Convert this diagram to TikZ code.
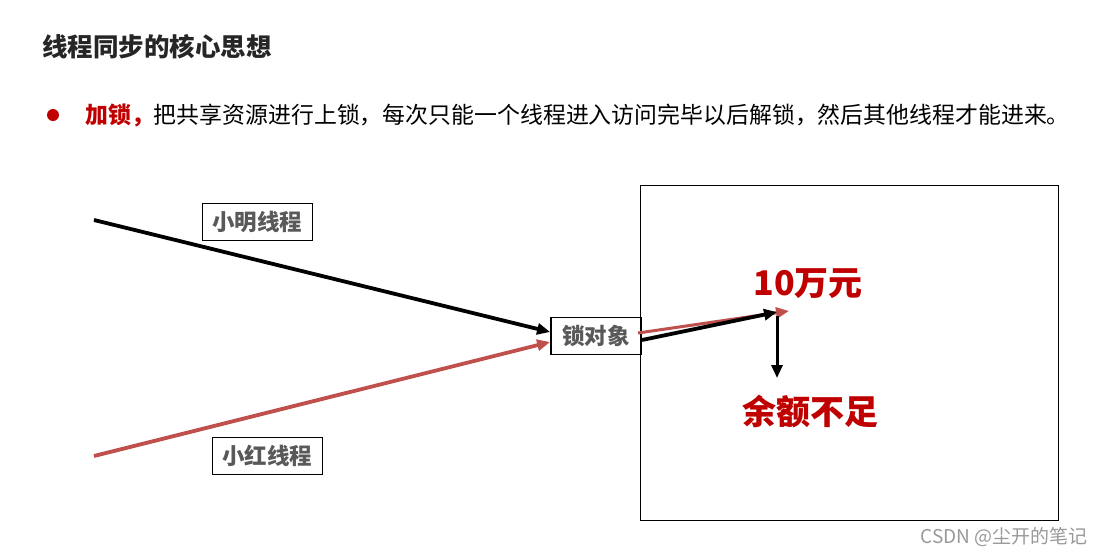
\documentclass[tikz,border=0pt]{standalone}
\usepackage{fontspec}
\newfontfamily\cjk{Noto Sans CJK SC}
\usetikzlibrary{arrows.meta}
\definecolor{darkred}{HTML}{C00000}
\definecolor{linered}{HTML}{C0504D}
\definecolor{labelgray}{HTML}{595959}
\definecolor{titlegray}{HTML}{262626}
\tikzset{
  lbl/.style={draw=black, line width=0.8pt, inner sep=0pt, minimum height=37pt, font=\cjk\bfseries\fontsize{22.5}{24}\selectfont, text=labelgray},
  thread/.style={line width=3.8pt, -{Triangle[length=13pt,width=11pt]}},
  bigtxt/.style={font=\cjk\bfseries\fontsize{34}{36}\selectfont, text=darkred}
}
\begin{document}
\begin{tikzpicture}[x=1pt,y=-1pt]
\useasboundingbox (0,0) rectangle (1104,555);
\fill[white] (0,0) rectangle (1104,555);
% title
\node[anchor=west, inner sep=0pt, font=\cjk\bfseries\fontsize{25.5}{28}\selectfont, text=titlegray] (title) at (42,47) {线程同步的核心思想};
% bullet
\fill[darkred] (53,115) circle (6pt);
\node[anchor=west, inner sep=0pt, font=\cjk\fontsize{22.9}{26}\selectfont] (bullet) at (85,115) {{\bfseries\color{darkred}加锁，}把共享资源进行上锁，每次只能一个线程进入访问完毕以后解锁，然后其他线程才能进来。};
% big box
\node[draw=black, line width=0.8pt, minimum width=418pt, minimum height=335pt, inner sep=0pt] (bigbox) at (849,352.5) {};
% lock
\node[lbl, line width=1.8pt, minimum width=90pt] (lock) at (596,336) {锁对象};
% labels
\node[lbl, minimum width=110pt] (xm) at (257,221.5) {小明线程};
\node[lbl, minimum width=110pt] (xh) at (267,455.5) {小红线程};
% coordinates
\coordinate (xmstart) at (94,220);
\coordinate (xhstart) at (94,456);
\coordinate (redstart) at (638,333);
\coordinate (redend) at (789,311);
\coordinate (blkstart) at (642,340);
\coordinate (blkend) at (777,312);
\coordinate (downstart) at (777,316);
\coordinate (downend) at (777,378);
% thread lines
\draw[thread, black] (xmstart) -- (lock.west |- 0,332);
\draw[thread, linered] (xhstart) -- (lock.west |- 0,342);
\draw[thread, linered, line width=3pt] (redstart) -- (redend);
\draw[thread, black] (blkstart) -- (blkend);
\draw[line width=3pt, black, -{Triangle[length=13pt,width=11pt]}] (downstart) -- (downend);
% texts
\node[bigtxt] (money) at (808,284) {10万元};
\node[bigtxt] (short) at (810,411) {余额不足};
\node[anchor=east, inner sep=0pt, font=\cjk\fontsize{19}{22}\selectfont, text=black!40] (wm) at (1088,537) {CSDN @尘开的笔记};
\end{tikzpicture}
\end{document}
